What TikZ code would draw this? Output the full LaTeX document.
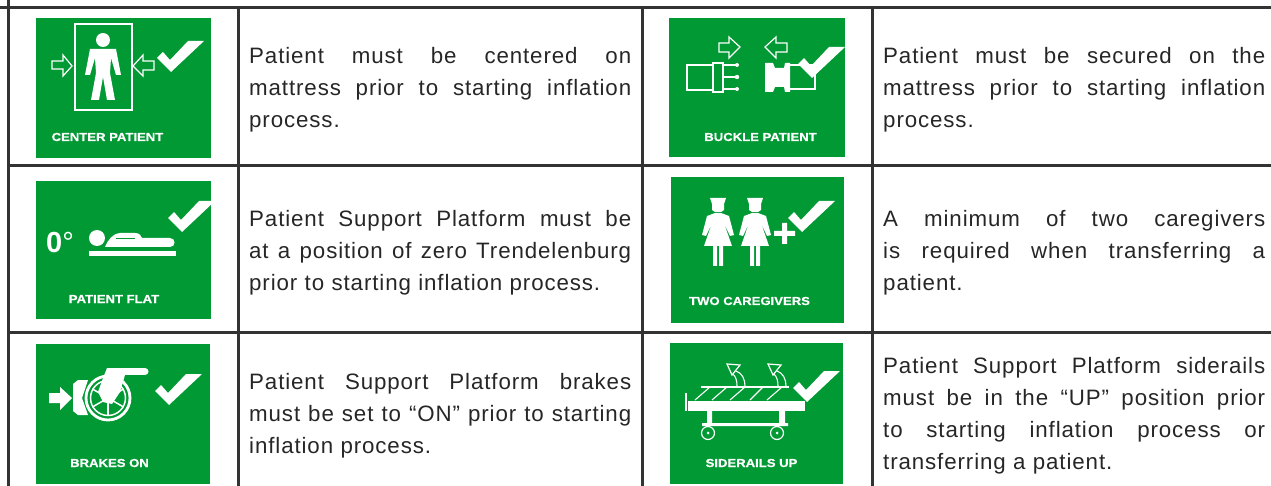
\documentclass[tikz,border=0pt]{standalone}
\usepackage{fontspec}
\setmainfont[LetterSpace=4]{Liberation Sans}
\newfontfamily\signfont[FakeStretch=1.13,BoldFeatures={FakeBold=.5,FakeStretch=1.13}]{Liberation Sans}
\newfontfamily\degfont{Liberation Sans}
\newcommand{\jl}[1]{\makebox[382pt][s]{\spaceskip=.3em plus 1fil minus .15em #1}\\}
\newcommand{\nl}[1]{\makebox[382pt][l]{\spaceskip=.33em #1}\\}
\newcommand{\tickmark}[2]{\fill[white,shift={(#1,#2)}] (157,58)--(163,52)--(170,60)--(188,41)--(204,41)--(171,72)--cycle;}
\tikzset{
  x=1pt,y=-1pt,
  grid/.style={draw=black!80,line width=3pt},
  sign/.style={fill=signgreen,draw=none,inner sep=0pt,anchor=north west},
  signlabel/.style={text=white,inner sep=0pt,anchor=base,font=\signfont\fontsize{11.6}{12}\selectfont\bfseries},
  body/.style={inner sep=0pt,anchor=west,text width=382pt,align=left,text=black!85,font=\fontsize{22.3}{32}\selectfont},
  hollow/.style={draw=white,line width=1.2pt,fill=signgreen},
  wline/.style={draw=white,line width=1.1pt},
}
\definecolor{signgreen}{RGB}{0,153,51}
\newcommand{\signbox}[5]{\node[sign,minimum width=#4pt,minimum height=#5pt] (#1) at (#2,#3) {};}
\begin{document}
\begin{tikzpicture}
\useasboundingbox (0,0) rectangle (1271,486);
% grid
\draw[grid] (0,8)--(1271,8);
\draw[grid] (8,166)--(1271,166);
\draw[grid] (8,332)--(1271,332);
\draw[grid] (8,0)--(8,486);
\draw[grid] (238,8)--(238,486);
\draw[grid] (642,8)--(642,486);
\draw[grid] (872,8)--(872,486);
% signs
\signbox{s1}{36}{18}{175}{140}
\signbox{s2}{669}{18}{176}{139}
\signbox{s3}{36}{181}{175}{138}
\signbox{s4}{671}{177}{173}{146}
\signbox{s5}{36}{344}{174}{140}
\signbox{s6}{670}{343}{173}{141}
% sign labels
\node[signlabel] (l1) at (107.5,141) {CENTER PATIENT};
\node[signlabel] (l2) at (760.5,141) {BUCKLE PATIENT};
\node[signlabel] (l3) at (114,303) {PATIENT FLAT};
\node[signlabel] (l4) at (749.5,305) {TWO CAREGIVERS};
\node[signlabel] (l5) at (109.5,467) {BRAKES ON};
\node[signlabel] (l6) at (751.5,467) {SIDERAILS UP};
% sign 1: centre patient
\draw[wline] (75,24) rectangle (132,110);
\fill[white] (103,40) circle (7);
\fill[white] (90,49)--(116,49)--(121,75)--(116,75)--(111,58)--(110,73)--(115,100)--(107,100)--(103,77)--(99,100)--(91,100)--(96,73)--(95,58)--(90,75)--(85,75)--cycle;
\draw[hollow] (52,61)--(63,61)--(63,55)--(72,66)--(63,76)--(63,69)--(52,69)--cycle;
\draw[hollow] (133,66)--(143,55)--(143,61)--(154,61)--(154,70)--(143,70)--(143,76)--cycle;
\tickmark{0}{0}
% sign 2: buckle
\draw[hollow] (719,43)--(729,43)--(729,37)--(740,47)--(729,58)--(729,52)--(719,52)--cycle;
\draw[hollow] (765,47)--(776,37)--(776,43)--(787,43)--(787,52)--(776,52)--(776,58)--cycle;
\draw[wline] (687,65) rectangle (713,90);
\draw[wline] (713,63) rectangle (723,92);
\draw[wline] (723,65)--(736,65) (723,77)--(736,77) (723,89)--(736,89);
\fill[white] (737,65) circle (2) (737,77) circle (2.2) (737,89) circle (2);
\fill[white] (765,63)--(773,63)--(775,68)--(784,68)--(785,63)--(790,63)--(790,92)--(785,92)--(784,87)--(775,87)--(773,92)--(765,92)--cycle;
\draw[wline] (789,65) rectangle (815,89);
\tickmark{641}{6}
% sign 3: flat
\node[text=white,inner sep=0pt,anchor=base west,font=\degfont\fontsize{29}{30}\selectfont] (deg) at (46,253) {\textbf{0}°};
\fill[white] (97,238) circle (8);
\fill[white] (105,247) .. controls (108,240) and (112,234) .. (120,233) -- (135,233) .. controls (140,233) and (141,236) .. (142,238) -- (170,238) .. controls (176,238) and (176,247) .. (170,247) -- cycle;
\draw[draw=signgreen,line width=.8pt] (116,238)--(135,238);
\fill[white] (89,251) rectangle (176,256);
\tickmark{11}{160}
% sign 4: caregivers
\foreach \cx in {718,755}{
  \begin{scope}[shift={(\cx,0)}]
  \fill[white] (-8,198)--(8,198)--(6,204)--(6,210)--(3,212)--(-3,212)--(-6,210)--(-6,204)--cycle;
  \fill[white] (-3,213)--(3,213)--(11,216)--(16,235)--(12,236)--(6,223)--(14,246)--(-14,246)--(-6,223)--(-12,236)--(-16,235)--(-11,216)--cycle;
  \fill[white] (-5,246) rectangle (-1,266) (1,246) rectangle (5,266);
  \end{scope}}
\fill[white] (774,231) rectangle (795,236) (782,223) rectangle (787,244);
\tickmark{631}{160}
% sign 5: brakes
\fill[white] (49,393)--(60,393)--(60,387)--(72,398)--(60,410)--(60,403)--(49,403)--cycle;
\fill[white] (78,380)--(88,380)--(82,398)--(88,415)--(78,415)--(73,411)--(73,384)--cycle;
\draw[white,line width=2.8pt] (108,398) circle (22);
\draw[white,line width=1.5pt] (108,398) circle (17.5);
\foreach \a in {30,90,150,210,270,330}{\draw[white,line width=1.5pt] (108,398) -- +(\a:18);}
\fill[white] (107,368) rectangle (145,375);
\fill[white] (145,371.5) circle (3.5);
\fill[white] (107,368)--(125,375)--(120,392)--(112,404)--(103,402)--(98,392)--(103,378)--cycle;
\tickmark{-2}{333}
% sign 6: siderails
\draw[wline] (701,387)--(789,387);
\foreach \b/\t in {695/710,712/727,730/745,750/763,767/782}{\draw[wline] (\b,400)--(\t,387);}
\fill[white] (688,401) rectangle (805,411);
\fill[white] (685,393) rectangle (687,411);
\fill[white] (707,411) rectangle (712,423) (779,411) rectangle (785,423) (702,423) rectangle (788,426);
\foreach \wx in {708,777}{\draw[white,line width=1.2pt,fill=signgreen] (\wx,433) circle (6.5); \fill[white] (\wx,433) circle (1.5);}
\foreach \dx in {0,41}{
  \begin{scope}[shift={(\dx,0)}]
  \draw[wline] (736,371) .. controls (742,373) and (745,379) .. (745,386);
  \draw[wline] (733,374) .. controls (736,377) and (737,381) .. (737,386);
  \draw[hollow] (727,364)--(740,365)--(732,375)--cycle;
  \end{scope}}
\tickmark{636}{330}
% texts
\node[body] (t1) at (249,90) {\jl{Patient must be centered on}\jl{mattress prior to starting inflation}\nl{process.}};
\node[body] (t2) at (883,90) {\jl{Patient must be secured on the}\jl{mattress prior to starting inflation}\nl{process.}};
\node[body] (t3) at (249,253) {\jl{Patient Support Platform must be}\jl{at a position of zero Trendelenburg}\nl{prior to starting inflation process.}};
\node[body] (t4) at (883,253) {\jl{A minimum of two caregivers}\jl{is required when transferring a}\nl{patient.}};
\node[body] (t5) at (249,416) {\jl{Patient Support Platform brakes}\jl{must be set to “ON” prior to starting}\nl{inflation process.}};
\node[body] (t6) at (883,416) {\jl{Patient Support Platform siderails}\jl{must be in the “UP” position prior}\jl{to starting inflation process or}\nl{transferring a patient.}};
\end{tikzpicture}
\end{document}
